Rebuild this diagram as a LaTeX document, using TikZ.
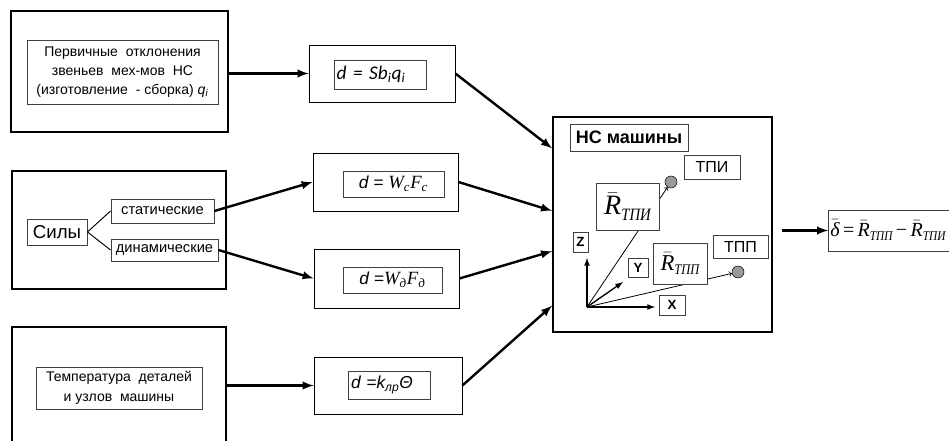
\documentclass[tikz,border=0pt]{standalone}
\usepackage{fontspec}
\setmainfont{Liberation Sans}
\newfontfamily\tms{Liberation Serif}
\newfontfamily\crl{Carlito}
\usetikzlibrary{arrows,positioning,calc}

% vector R with a bar and a lowered, narrowed subscript
\newcommand\rvec[2]{$\bar{\hbox{\tms\itshape R}}$\raisebox{-0.4ex}{\scalebox{0.85}[1]{\fontsize{#1}{#1}\tms\itshape #2}}}
\newcommand\dbar{$\bar{\hbox{\tms\itshape δ}}$}

\begin{document}
\begin{tikzpicture}
[x=0.75pt,y=-0.75pt%
,dim/.style 2 args={minimum width=#1*0.75pt,%
                    minimum height=#2*0.75pt}%
,frame/.style={draw,line width=1.5pt,inner sep=0pt}%
,block/.style={draw,line width=0.6pt,inner sep=0pt}%
,lbl/.style={draw=black!75,line width=0.7pt,inner sep=1pt,%
             align=center,fill=white}%
,flow/.style={-latex,line width=1.8pt}%
,axis/.style={-latex,line width=1pt}%
,vec/.style={->,line width=0.6pt}%
,spot/.style={circle,draw,fill=black!40,inner sep=0pt,%
              minimum size=12*0.75pt}]
\useasboundingbox (0,0) rectangle (949,441);
\clip (0,0) rectangle (949,441);

% sources
\node[frame,dim={217}{121}] (prim) at (119.5,71.5) {};
\node[lbl,dim={191}{64},font=\fontsize{10.5}{14}\selectfont] (primtxt) at (122.5,72)
  {Первичные\ \ отклонения\\звеньев\ \ мех-мов\ \ НС\\(изготовление\ \ -\ сборка)\ \textit{q}\textsubscript{\textit{i}}};

\node[frame,dim={214}{118}] (force) at (119,230) {};
\node[lbl,dim={60}{26},font=\fontsize{14}{16}\selectfont] (sily) at (57,232) {Силы};
\node[lbl,dim={103}{24},font=\fontsize{11}{13}\selectfont] (stat) at (162.5,211) {статические};
\node[lbl,dim={107}{22},font=\fontsize{11}{13}\selectfont] (dyn) at (164.5,250) {динамические};
\draw[line width=0.7pt] (sily.east) -- (stat.west);
\draw[line width=0.7pt] (sily.east) -- (dyn.west);

\node[frame,dim={214}{133}] (temp) at (119,393.5) {};
\node[lbl,dim={166}{42},font=\fontsize{10.5}{15}\selectfont] (temptxt) at (119,388)
  {Температура\ \ деталей\\и узлов\ \ машины};

% transfer blocks
\node[block,dim={146}{57}] (sens) at (382,73.5) {};
\node[lbl,dim={92}{29},inner xsep=2pt,text width=65pt,align=left,%
      font=\crl\itshape\fontsize{14.5}{16}\selectfont] (senstxt) at (380,74.5)
  {d = Sb\textsubscript{i}q\textsubscript{i}};

\node[block,dim={145}{58}] (wc) at (385.5,182) {};
\node[lbl,dim={101}{26},font=\fontsize{13}{15}\selectfont] (wctxt) at (393.5,184)
  {\textit{d =} {\tms\itshape\fontsize{14}{15}\selectfont W\textsubscript{c}F\textsubscript{c}}};

\node[block,dim={145}{59}] (wd) at (386.5,278.5) {};
\node[lbl,dim={99}{26},font=\fontsize{13}{15}\selectfont] (wdtxt) at (392.5,280)
  {\textit{d =}{\tms\itshape\fontsize{14}{15}\selectfont W\textsubscript{д}F\textsubscript{д}}};

\node[block,dim={148}{57}] (klp) at (388,385.5) {};
\node[lbl,dim={82}{28},inner xsep=2pt,text width=57pt,align=left,%
      font=\itshape\fontsize{13}{15}\selectfont] (klptxt) at (389,385)
  {d =k\textsubscript{лр}Θ};

% machine
\node[frame,dim={219}{215}] (mach) at (662.5,224.5) {};
\node[lbl,dim={118}{27},font=\bfseries\fontsize{13.5}{15}\selectfont] (title) at (629,137.5) {НС машины};
\node[lbl,dim={56}{24},font=\fontsize{12}{14}\selectfont] (tpi) at (712,167) {ТПИ};
\node[lbl,dim={55}{23},font=\fontsize{12}{14}\selectfont] (tpp) at (740.5,246.5) {ТПП};
\node[spot] (ptpi) at (671,182) {};
\node[spot] (ptpp) at (738,272) {};

\coordinate (o) at (587,307);
\coordinate (zend) at (587,258);
\coordinate (yend) at (623,282);
\coordinate (xend) at (655,307);
\draw[axis] (o) -- (zend);
\draw[axis] (o) -- (yend);
\draw[axis] (o) -- (xend);
\draw[vec] (o) -- (ptpi);
\draw[vec] (o) -- (ptpp);

\node[lbl,dim={63}{47},font=\fontsize{21}{22}\selectfont] (rtpi) at (627.5,206.5) {\rvec{13}{ТПИ}};
\node[lbl,dim={54}{41},font=\fontsize{17}{18}\selectfont] (rtpp) at (680,263.5) {\rvec{11}{ТПП}};
\node[lbl,dim={15}{20},font=\bfseries\fontsize{10}{11}\selectfont] (zl) at (580.5,242) {Z};
\node[lbl,dim={20}{19},font=\bfseries\fontsize{10}{11}\selectfont] (yl) at (638,267.5) {Y};
\node[lbl,dim={26}{20},font=\bfseries\fontsize{10}{11}\selectfont] (xl) at (672,305) {X};

% result
\node[lbl,anchor=west,minimum height=41*0.75pt,inner xsep=1.5pt,text width=130pt,align=left,%
      font=\fontsize{15}{17}\selectfont] (res) at (828,230.5)
  {\dbar\,{\tms =}\,\rvec{10}{ТПП}\,{\tms −}\,\rvec{10}{ТПИ}};

% signal flow
\draw[flow] (prim.east |- sens.west) -- (sens.west);
\draw[flow] (sens.east) -- ($(mach.north west)!0.149!(mach.south west)$);
\draw[flow] (stat.east) -- (wc.west);
\draw[flow] (dyn.east) -- (wd.west);
\draw[flow] (wc.east) -- ($(mach.north west)!0.437!(mach.south west)$);
\draw[flow] (wd.east) -- ($(mach.north west)!0.623!(mach.south west)$);
\draw[flow] (temp.east |- klp.west) -- (klp.west);
\draw[flow] (klp.east) -- ($(mach.north west)!0.874!(mach.south west)$);
\draw[flow] ($(mach.east |- res.west)+(9,0)$) -- (res.west);
\end{tikzpicture}
\end{document}
